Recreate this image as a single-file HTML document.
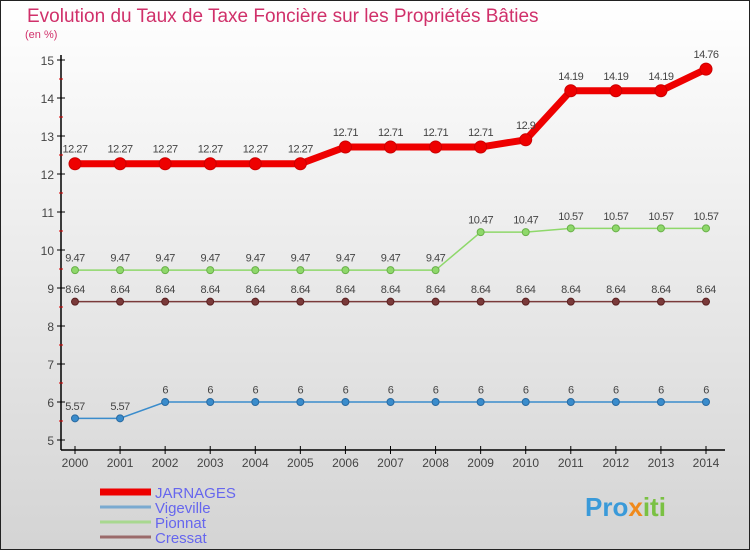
<!DOCTYPE html>
<html><head><meta charset="utf-8"><style>
body{margin:0;width:750px;height:550px;overflow:hidden;font-family:"Liberation Sans",sans-serif}
</style></head><body>
<svg width="750" height="550" xmlns="http://www.w3.org/2000/svg">
<defs><linearGradient id="bg" x1="0" y1="0" x2="0" y2="1"><stop offset="0" stop-color="#ffffff"/><stop offset="1" stop-color="#d4d4d4"/></linearGradient></defs>
<rect x="0.5" y="0.5" width="749" height="549" fill="url(#bg)" stroke="#222"/>
<text x="27" y="22" font-size="19" fill="#d0306a">Evolution du Taux de Taxe Foncière sur les Propriétés Bâties</text>
<text x="25" y="38" font-size="11" fill="#d0306a">(en %)</text>
<g id="axes"></g><g id="series"></g><g id="legend"></g>
<text x="585" y="516" font-size="26" font-weight="bold" fill="#3a9ad9">Pro<tspan fill="#f08a1c">x</tspan><tspan fill="#7ac143">iti</tspan></text>
</svg>
<script>
const years=[2000,2001,2002,2003,2004,2005,2006,2007,2008,2009,2010,2011,2012,2013,2014];
const yTicks=[5,6,7,8,9,10,11,12,13,14,15];
const jarnages=[12.27,12.27,12.27,12.27,12.27,12.27,12.71,12.71,12.71,12.71,12.9,14.19,14.19,14.19,14.76];
const jarnagesLabels=["12.27","12.27","12.27","12.27","12.27","12.27","12.71","12.71","12.71","12.71","12.9","14.19","14.19","14.19","14.76"];
const vigeville=[5.57,5.57,6,6,6,6,6,6,6,6,6,6,6,6,6];
const pionnat=[9.47,9.47,9.47,9.47,9.47,9.47,9.47,9.47,9.47,10.47,10.47,10.57,10.57,10.57,10.57];
const cressat=[8.64,8.64,8.64,8.64,8.64,8.64,8.64,8.64,8.64,8.64,8.64,8.64,8.64,8.64,8.64];
const NS="http://www.w3.org/2000/svg";
const xS=i=>75+i*(706-75)/14;
const yS=v=>440-(v-5)*(440-60)/10;
function mk(p,t,a){const e=document.createElementNS(NS,t);for(const k in a)e.setAttribute(k,a[k]);p.appendChild(e);return e;}
const ax=document.getElementById('axes');
let e=mk(ax,'line',{x1:61,y1:55,x2:61,y2:450,stroke:'#000','stroke-width':1.5});


e=mk(ax,'line',{x1:61,y1:450,x2:725,y2:450,stroke:'#000','stroke-width':1.5});


yTicks.forEach(v=>{
 mk(ax,'line',{x1:57,y1:yS(v),x2:65,y2:yS(v),stroke:'#000'});
 if(v<15)mk(ax,'line',{x1:59,y1:yS(v+0.5),x2:63,y2:yS(v+0.5),stroke:'#d00'});
 const t=mk(ax,'text',{x:54,y:yS(v)+5,'font-size':12,fill:'#444','text-anchor':'end'});t.textContent=v;
 
 
});
years.forEach((y,i)=>{
 mk(ax,'line',{x1:xS(i),y1:446,x2:xS(i),y2:454,stroke:'#000'});
 const t=mk(ax,'text',{x:xS(i),y:467,'font-size':12,fill:'#444','text-anchor':'middle'});t.textContent=y;
 
 
});
const sg=document.getElementById('series');
function series(name,data,color,w,r,labels,dark){
 const g=mk(sg,'g',{});
 
 
 const pts=data.map((v,i)=>xS(i)+','+yS(v)).join(' ');
 mk(g,'polyline',{points:pts,fill:'none',stroke:color,'stroke-width':w});
 data.forEach((v,i)=>{
  const c=mk(g,'circle',{cx:xS(i),cy:yS(v),r:r,fill:color,stroke:dark,'stroke-width':1});
  
  
  const t=mk(g,'text',{x:xS(i),y:yS(v)-(r+5),'font-size':11,fill:'#444','text-anchor':'middle','letter-spacing':'-0.5'});
  t.textContent=labels?labels[i]:String(v);
  
  
 });
}
series('cressat',cressat,'#7a3a3a',1.5,3.5,null,'#5a2020');
series('pionnat',pionnat,'#8ed86a',1.5,3.5,null,'#6ab04a');
series('vigeville',vigeville,'#3a8ccc',1.5,3.5,null,'#2a6aa0');
series('jarnages',jarnages,'#ee0000',7,6,jarnagesLabels,'#cc0000');
const lg=document.getElementById('legend');
[['JARNAGES','#ee0000',7],['Vigeville','#7aaad0',3],['Pionnat','#a8d890',3],['Cressat','#9a6a6a',3]].forEach((d,i)=>{
 const y=492+i*15;
 const l=mk(lg,'line',{x1:100,y1:y,x2:151,y2:y,stroke:d[1],'stroke-width':d[2]});
 
 
 const t=mk(lg,'text',{x:155,y:y+6,'font-size':15,fill:'#6666ee'});t.textContent=d[0];
 
 
});
</script>
</body></html>
